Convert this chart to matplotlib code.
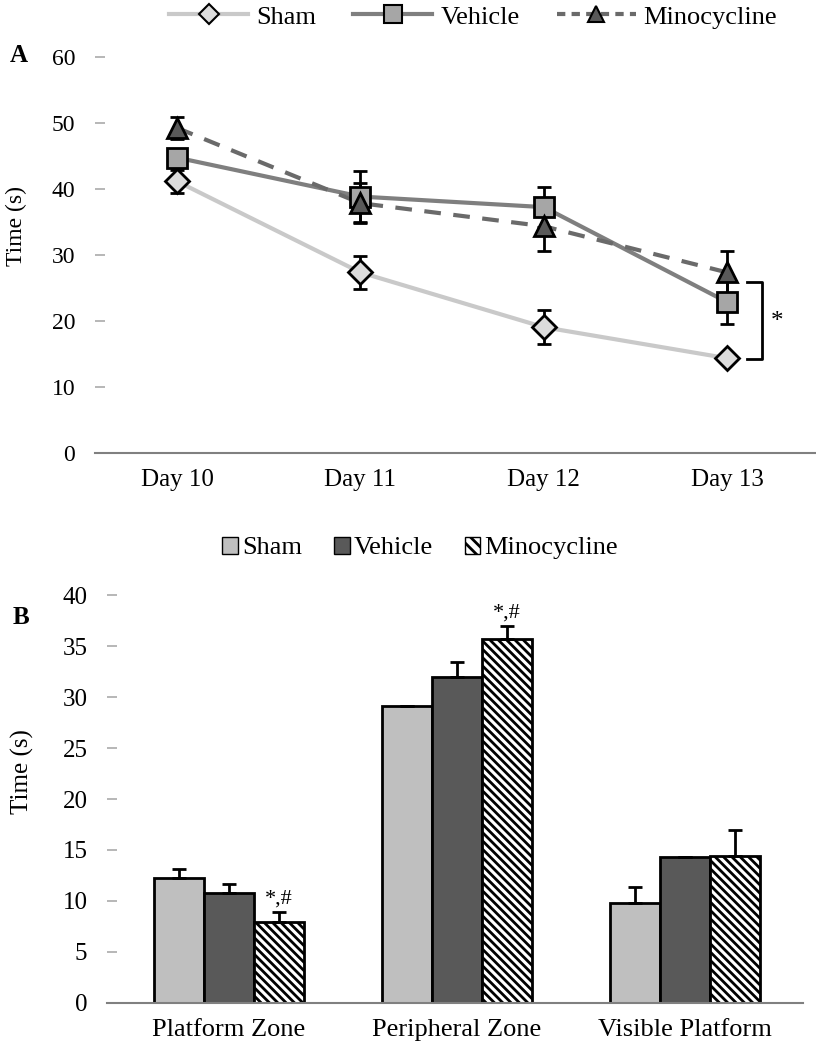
import numpy as np
import matplotlib
matplotlib.use("Agg")
import matplotlib.pyplot as plt
from matplotlib.lines import Line2D
from matplotlib.patches import Patch

plt.rcParams['font.family'] = ['Liberation Serif', 'DejaVu Serif']
plt.rcParams['hatch.linewidth'] = 2.0

# Panel A data (escape latency, s)
days = ['Day 10', 'Day 11', 'Day 12', 'Day 13']
sham_a = [41.1, 27.3, 19.0, 14.3]
sham_a_err = [1.8, 2.5, 2.6, 0.4]
veh_a = [44.7, 38.8, 37.2, 22.8]
veh_a_err = [1.2, 3.9, 3.0, 3.3]
mino_a = [49.2, 37.8, 34.3, 27.3]
mino_a_err = [1.7, 3.0, 3.8, 3.2]

# Panel B data (time in zone, s)
zones = ['Platform Zone', 'Peripheral Zone', 'Visible Platform']
sham_b = [12.2, 29.1, 9.8]
sham_b_err = [0.9, 0.0, 1.6]
veh_b = [10.8, 32.0, 14.3]
veh_b_err = [0.9, 1.5, 0.0]
mino_b = [7.9, 35.7, 14.4]
mino_b_err = [1.0, 1.3, 2.6]
b_marks = ['*,#', '*,#', '']

fig = plt.figure(figsize=(8.16, 10.5), dpi=100)

# ---------------- Panel A ----------------
ax1 = fig.add_axes([0.116, 0.569, 0.883, 0.377])
x = np.arange(len(days))

c_sham, c_veh, c_mino = '#c9c9c9', '#7f7f7f', '#6a6a6a'
ax1.plot(x, sham_a, color=c_sham, lw=3, zorder=2)
ax1.plot(x, veh_a, color=c_veh, lw=3, zorder=2)
ax1.plot(x, mino_a, color=c_mino, lw=3, ls=(0, (4, 3)), zorder=2)

for vals, errs in [(sham_a, sham_a_err), (veh_a, veh_a_err), (mino_a, mino_a_err)]:
    ax1.errorbar(x, vals, yerr=errs, fmt='none', ecolor='black', elinewidth=2,
                 capsize=5, capthick=2, zorder=3)

ax1.plot(x, sham_a, ls='none', marker='D', ms=12, mfc='#dcdcdc', mec='black', mew=2, zorder=4)
ax1.plot(x, veh_a, ls='none', marker='s', ms=15, mfc='#a6a6a6', mec='black', mew=2, zorder=4)
ax1.plot(x, mino_a, ls='none', marker='^', ms=14, mfc='#595959', mec='black', mew=2, zorder=5)

# significance bracket at Day 13
ax1.plot([3.11, 3.19, 3.19, 3.11], [25.8, 25.8, 14.2, 14.2], color='black', lw=2,
         clip_on=False)
ax1.text(3.27, 19.8, '*', ha='center', va='center', fontsize=18)

ax1.set_xlim(-0.45, 3.48)
ax1.set_ylim(0, 60)
ax1.set_yticks(np.arange(0, 61, 10))
ax1.set_xticks(x)
ax1.set_xticklabels(days)
for s in ['top', 'right', 'left']:
    ax1.spines[s].set_visible(False)
ax1.spines['bottom'].set_color('#808080')
ax1.spines['bottom'].set_linewidth(1.5)
ax1.tick_params(axis='x', length=0, pad=12, labelsize=18)
ax1.tick_params(axis='y', direction='in', length=7, width=1.2, color='#aaaaaa',
                labelsize=17, pad=14)

leg_a = [Line2D([], [], color=c_sham, lw=3, marker='D', ms=10, mfc='#dcdcdc', mec='black', mew=1.5),
         Line2D([], [], color=c_veh, lw=3, marker='s', ms=13, mfc='#a6a6a6', mec='black', mew=1.5),
         Line2D([], [], color=c_mino, lw=3, ls=(0, (2, 1.5)), marker='^', ms=12, mfc='#595959', mec='black', mew=1.5)]
fig.legend(leg_a, ['Sham', 'Vehicle', 'Minocycline'], loc='center', bbox_to_anchor=(0.58, 0.984),
           ncol=3, frameon=False, fontsize=19, handlelength=3.0, columnspacing=1.4,
           handletextpad=0.3)

fig.text(0.012, 0.947, 'A', fontsize=18, fontweight='bold', va='center')
fig.text(0.02, 0.785, 'Time (s)', rotation=90, fontsize=17, ha='center', va='center')

# ---------------- Panel B ----------------
ax2 = fig.add_axes([0.131, 0.045, 0.853, 0.388])
xb = np.arange(len(zones))
w = 0.22
zeros = [0] * len(zones)
ax2.bar(xb - w, sham_b, w, color='#bfbfbf', edgecolor='black', lw=2,
        yerr=[zeros, sham_b_err], capsize=5, error_kw=dict(elinewidth=2, capthick=2))
ax2.bar(xb, veh_b, w, color='#595959', edgecolor='black', lw=2,
        yerr=[zeros, veh_b_err], capsize=5, error_kw=dict(elinewidth=2, capthick=2))
ax2.bar(xb + w, mino_b, w, color='white', edgecolor='black', lw=2, hatch='\\\\\\\\',
        yerr=[zeros, mino_b_err], capsize=5, error_kw=dict(elinewidth=2, capthick=2))

for i, m in enumerate(b_marks):
    if m:
        ax2.text(xb[i] + w, mino_b[i] + mino_b_err[i] + 1.3, m, ha='center', va='center',
                 fontsize=16)

ax2.set_xlim(-0.535, 2.517)
ax2.set_ylim(0, 40)
ax2.set_yticks(np.arange(0, 41, 5))
ax2.set_xticks(xb)
ax2.set_xticklabels(zones)
for s in ['top', 'right', 'left']:
    ax2.spines[s].set_visible(False)
ax2.spines['bottom'].set_color('#808080')
ax2.spines['bottom'].set_linewidth(1.5)
ax2.tick_params(axis='x', length=0, pad=12, labelsize=19)
ax2.tick_params(axis='y', direction='in', length=7, width=1.2, color='#aaaaaa',
                labelsize=18, pad=14)

leg_b = [Patch(facecolor='#bfbfbf', edgecolor='black'),
         Patch(facecolor='#595959', edgecolor='black'),
         Patch(facecolor='white', edgecolor='black', hatch='\\\\\\')]
fig.legend(leg_b, ['Sham', 'Vehicle', 'Minocycline'], loc='center', bbox_to_anchor=(0.515, 0.478),
           ncol=3, frameon=False, fontsize=19, handlelength=0.6, handleheight=0.6,
           columnspacing=1.2, handletextpad=0.15)

fig.text(0.015, 0.412, 'B', fontsize=18, fontweight='bold', va='center')
fig.text(0.027, 0.265, 'Time (s)', rotation=90, fontsize=18, ha='center', va='center')

fig.savefig('out.png', dpi=100)
